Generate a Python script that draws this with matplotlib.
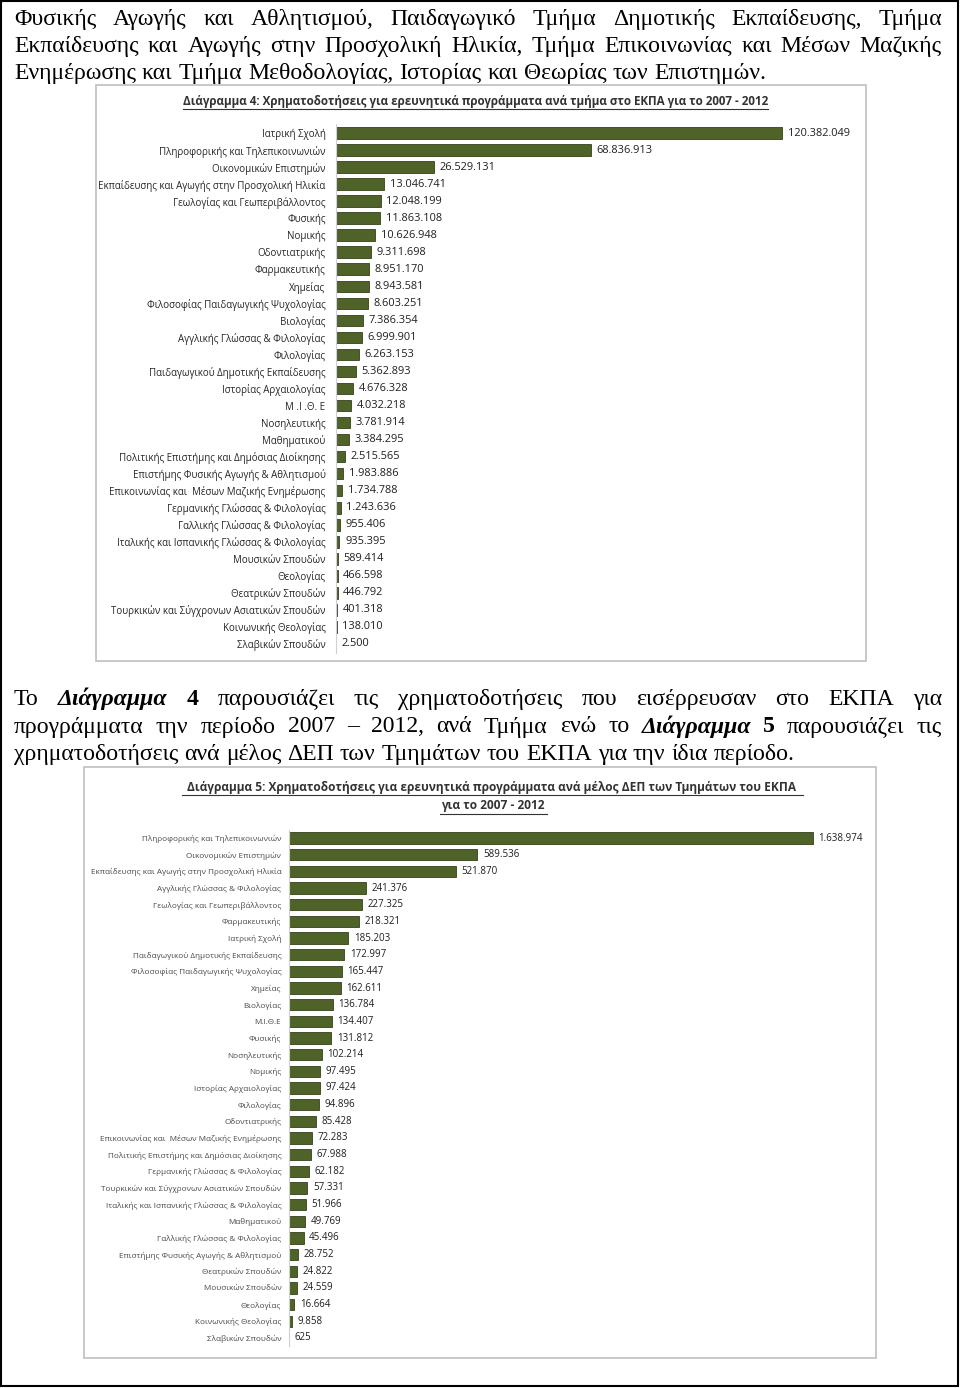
import matplotlib.pyplot as plt
from matplotlib.patches import Rectangle

W, H = 960, 1388

# ---- Διάγραμμα 4 ----
depts4 = ['Ιατρική Σχολή', 'Πληροφορικής και Τηλεπικοινωνιών', 'Οικονομικών Επιστημών',
          'Εκπαίδευσης και Αγωγής στην Προσχολική Ηλικία', 'Γεωλογίας και Γεωπεριβάλλοντος',
          'Φυσικής', 'Νομικής', 'Οδοντιατρικής', 'Φαρμακευτικής', 'Χημείας',
          'Φιλοσοφίας Παιδαγωγικής Ψυχολογίας', 'Βιολογίας', 'Αγγλικής Γλώσσας & Φιλολογίας',
          'Φιλολογίας', 'Παιδαγωγικού Δημοτικής Εκπαίδευσης', 'Ιστορίας Αρχαιολογίας',
          'Μ .Ι .Θ. Ε', 'Νοσηλευτικής', 'Μαθηματικού',
          'Πολιτικής Επιστήμης και Δημόσιας Διοίκησης', 'Επιστήμης Φυσικής Αγωγής & Αθλητισμού',
          'Επικοινωνίας και  Μέσων Μαζικής Ενημέρωσης', 'Γερμανικής Γλώσσας & Φιλολογίας',
          'Γαλλικής Γλώσσας & Φιλολογίας', 'Ιταλικής και Ισπανικής Γλώσσας & Φιλολογίας',
          'Μουσικών Σπουδών', 'Θεολογίας', 'Θεατρικών Σπουδών',
          'Τουρκικών και Σύγχρονων Ασιατικών Σπουδών', 'Κοινωνικής Θεολογίας', 'Σλαβικών Σπουδών']
funds4 = [120382049, 68836913, 26529131, 13046741, 12048199, 11863108, 10626948, 9311698,
          8951170, 8943581, 8603251, 7386354, 6999901, 6263153, 5362893, 4676328, 4032218,
          3781914, 3384295, 2515565, 1983886, 1734788, 1243636, 955406, 935395, 589414,
          466598, 446792, 401318, 138010, 2500]

# ---- Διάγραμμα 5 ----
depts5 = ['Πληροφορικής και Τηλεπικοινωνιών', 'Οικονομικών Επιστημών',
          'Εκπαίδευσης και Αγωγής στην Προσχολική Ηλικία', 'Αγγλικής Γλώσσας & Φιλολογίας',
          'Γεωλογίας και Γεωπεριβάλλοντος', 'Φαρμακευτικής', 'Ιατρική Σχολή',
          'Παιδαγωγικού Δημοτικής Εκπαίδευσης', 'Φιλοσοφίας Παιδαγωγικής Ψυχολογίας', 'Χημείας',
          'Βιολογίας', 'Μ.Ι.Θ.Ε', 'Φυσικής', 'Νοσηλευτικής', 'Νομικής', 'Ιστορίας Αρχαιολογίας',
          'Φιλολογίας', 'Οδοντιατρικής', 'Επικοινωνίας και  Μέσων Μαζικής Ενημέρωσης',
          'Πολιτικής Επιστήμης και Δημόσιας Διοίκησης', 'Γερμανικής Γλώσσας & Φιλολογίας',
          'Τουρκικών και Σύγχρονων Ασιατικών Σπουδών', 'Ιταλικής και Ισπανικής Γλώσσας & Φιλολογίας',
          'Μαθηματικού', 'Γαλλικής Γλώσσας & Φιλολογίας', 'Επιστήμης Φυσικής Αγωγής & Αθλητισμού',
          'Θεατρικών Σπουδών', 'Μουσικών Σπουδών', 'Θεολογίας', 'Κοινωνικής Θεολογίας',
          'Σλαβικών Σπουδών']
funds5 = [1638974, 589536, 521870, 241376, 227325, 218321, 185203, 172997, 165447, 162611,
          136784, 134407, 131812, 102214, 97495, 97424, 94896, 85428, 72283, 67988, 62182,
          57331, 51966, 49769, 45496, 28752, 24822, 24559, 16664, 9858, 625]

title4 = 'Διάγραμμα 4: Χρηματοδοτήσεις για ερευνητικά προγράμματα ανά τμήμα στο ΕΚΠΑ για το 2007 - 2012'
title5 = ['Διάγραμμα 5: Χρηματοδοτήσεις για ερευνητικά προγράμματα ανά μέλος ΔΕΠ των Τμημάτων του ΕΚΠΑ',
          'για το 2007 - 2012']

# page text, one string per line (**word** = bold italic, *word = bold)
para1 = [
    'Φυσικής Αγωγής και Αθλητισμού, Παιδαγωγικό Τμήμα Δημοτικής Εκπαίδευσης, Τμήμα',
    'Εκπαίδευσης και Αγωγής στην Προσχολική Ηλικία, Τμήμα Επικοινωνίας και Μέσων Μαζικής',
    'Ενημέρωσης και Τμήμα Μεθοδολογίας, Ιστορίας και Θεωρίας των Επιστημών.',
]
para2 = [
    'Το **Διάγραμμα** *4 παρουσιάζει τις χρηματοδοτήσεις που εισέρρευσαν στο ΕΚΠΑ για',
    'προγράμματα την περίοδο 2007 – 2012, ανά Τμήμα ενώ το **Διάγραμμα** *5 παρουσιάζει τις',
    'χρηματοδοτήσεις ανά μέλος ΔΕΠ των Τμημάτων του ΕΚΠΑ για την ίδια περίοδο.',
]

BAR = '#4f6228'
SERIF = ['Liberation Serif', 'DejaVu Serif']
SANS = ['Open Sans', 'DejaVu Sans']

fig = plt.figure(figsize=(W / 100, H / 100), dpi=100)
fig.patch.set_facecolor('white')
renderer = fig.canvas.get_renderer()


def fx(x):
    return x / W


def fy(y):
    return 1 - y / H


def box(x0, y0, x1, y1, color, lw):
    fig.patches.append(Rectangle((fx(x0), fy(y1)), (x1 - x0) / W, (y1 - y0) / H,
                                 transform=fig.transFigure, fill=False,
                                 edgecolor=color, linewidth=lw))


def line_words(line, y, x0=14, x1=942, size=17.1, justify=True):
    words = []
    for w in line.split():
        weight, style = 'normal', 'normal'
        if w.startswith('**'):
            w, weight, style = w.strip('*'), 'bold', 'italic'
        elif w.startswith('*'):
            w, weight = w.strip('*'), 'bold'
        t = fig.text(0, fy(y), w, fontsize=size, family=SERIF, fontweight=weight,
                     fontstyle=style, va='baseline', ha='left', color='black')
        words.append((t, t.get_window_extent(renderer).width))
    probe1 = fig.text(0, 0, 'a a', fontsize=size, family=SERIF)
    probe2 = fig.text(0, 0, 'aa', fontsize=size, family=SERIF)
    space = probe1.get_window_extent(renderer).width - probe2.get_window_extent(renderer).width
    probe1.remove()
    probe2.remove()
    total = sum(wd for _, wd in words)
    gap = (x1 - x0 - total) / (len(words) - 1) if justify else space
    x = x0
    for t, wd in words:
        t.set_x(fx(x))
        x += wd + gap


# page border
box(1, 1, 958, 1386, 'black', 1.5)

for i, ln in enumerate(para1):
    line_words(ln, 25 + 27 * i, justify=(i < 2))
for i, ln in enumerate(para2):
    line_words(ln, 705 + 27.5 * i, justify=(i < 2))

# chart frames
box(96, 85, 866, 661, '#bfbfbf', 1.2)
box(84, 767, 876, 1358, '#bfbfbf', 1.2)


def bar_chart(depts, funds, left, right, top, bottom, xmax, lab_size, val_size, lab_color, pad):
    ax = fig.add_axes([fx(left), fy(bottom), (right - left) / W, (bottom - top) / H])
    y = range(len(depts))
    ax.barh(y, funds, height=0.68, color=BAR, edgecolor='#34431a', linewidth=0.6)
    ax.set_xlim(0, xmax)
    ax.set_ylim(len(depts) - 0.5, -0.5)
    ax.set_yticks(list(y))
    ax.set_yticklabels(depts, fontsize=lab_size, family=SANS, color=lab_color)
    ax.tick_params(axis='y', length=0, pad=pad)
    ax.set_xticks([])
    for s in ['top', 'right', 'bottom']:
        ax.spines[s].set_visible(False)
    ax.spines['left'].set_color('#d0d0d0')
    ax.spines['left'].set_linewidth(0.8)
    ax.patch.set_alpha(0)
    for yi, v in zip(y, funds):
        ax.annotate(f'{v:,}'.replace(',', '.'), (v, yi), xytext=(4, 0),
                    textcoords='offset points', va='center', ha='left',
                    fontsize=val_size, family=SANS, color='#1f1f1f', annotation_clip=False)
    return ax


bar_chart(depts4, funds4, 336, 850, 124.5, 652.5, 138.7e6, 7.0, 7.9, '#262626', 7.5)
bar_chart(depts5, funds5, 289, 860, 829.7, 1346.3, 1.786e6, 5.9, 7.0, '#4a4a4a', 5.5)

fig.text(fx(476), fy(102), title4, fontsize=8.35, family=SANS, fontweight='bold',
         color='#333333', ha='center', va='center')
fig.text(fx(492), fy(787), title5[0], fontsize=8.6, family=SANS, fontweight='bold',
         color='#333333', ha='center', va='center')
fig.text(fx(493), fy(806), title5[1], fontsize=8.6, family=SANS, fontweight='bold',
         color='#333333', ha='center', va='center')

# underline the chart titles
for txt_y, (xa, xb) in [(109, (183, 768)), (795, (182, 803)), (814, (440, 547))]:
    fig.add_artist(plt.Line2D([fx(xa), fx(xb)], [fy(txt_y), fy(txt_y)],
                              transform=fig.transFigure, color='#333333', linewidth=0.8))

fig.savefig('out.png', dpi=100)
